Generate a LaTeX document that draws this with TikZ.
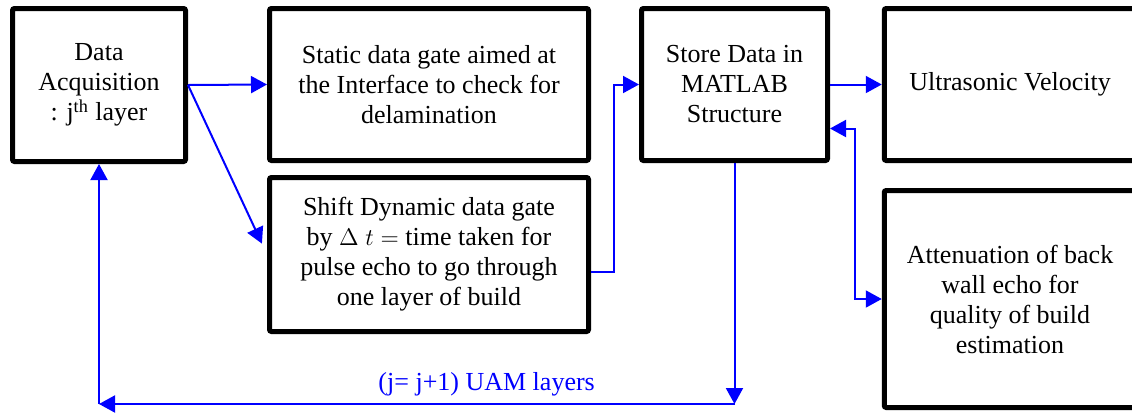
\documentclass[tikz,border=0pt]{standalone}
\usepackage{fontspec}
\setmainfont{Liberation Serif}
\usepackage{amsmath}
\usetikzlibrary{arrows.meta,positioning,calc}
\definecolor{FLOW}{HTML}{0000FF}

\begin{document}
\begin{tikzpicture}[x=0.5pt,y=-0.5pt,
    stage/.style={draw=black, line width=2.5pt, rounded corners=1pt,
                  align=center, inner sep=2pt,
                  font=\fontsize{13}{15}\selectfont},
    flow/.style={draw=FLOW, line width=1pt,
                 -{Triangle[length=8pt,width=8.5pt]}},
    twoway/.style={flow, {Triangle[length=8pt,width=8.5pt]}-{Triangle[length=8pt,width=8.5pt]}}]
  \useasboundingbox (0,0) rectangle (1132,414);
  \clip (0,0) rectangle (1132,414);

  % processing stages
  \node[stage, minimum width=86.5pt, minimum height=76.5pt] (acq) at (99,85)
    {Data\\Acquisition\\: j\textsuperscript{th} layer};
  \node[stage, minimum width=159.5pt, minimum height=76pt] (static) at (429,84.5)
    {Static data gate aimed at\\the Interface to check for\\delamination};
  \node[stage, minimum width=159.5pt, minimum height=77pt] (shift) at (429,254.5)
    {Shift Dynamic data gate\\by $\Delta\;t =$ time taken for\\pulse echo to go through\\one layer of build};
  \node[stage, minimum width=93pt, minimum height=76pt] (store) at (734.5,84.5)
    {Store Data in\\MATLAB\\Structure};
  \node[stage, minimum width=125.75pt, minimum height=76pt] (ultra) at (1010,84.5)
    {Ultrasonic Velocity};
  \node[stage, minimum width=125.75pt, minimum height=108.5pt] (atten) at (1010,299)
    {Attenuation of back\\wall echo for\\quality of build\\estimation};

  % corners of the return loop
  \coordinate (turnR) at (store.south |- 0,404);
  \coordinate (turnL) at (acq.south |- 0,404);

  % connectors
  \draw[flow] (acq.east) -- (static.west);
  \draw[flow, shorten >=6pt] (acq.east) -- (shift.west);
  \draw[flow] ([yshift=-8.5pt]shift.east) -- ++(23,0) |- (store.west);
  \draw[flow] (store.east) -- (ultra.west);
  \draw[twoway] ([yshift=-22pt]store.east) -- ++(25,0) |- (atten.west);
  \draw[flow] (store.south) -- (turnR);
  \draw[flow] (turnR) -- node[above, pos=0.39, text=FLOW,
      font=\fontsize{13}{15}\selectfont] {(j= j+1) UAM layers} (turnL);
  \draw[flow] (turnL) -- (acq.south);
\end{tikzpicture}
\end{document}
